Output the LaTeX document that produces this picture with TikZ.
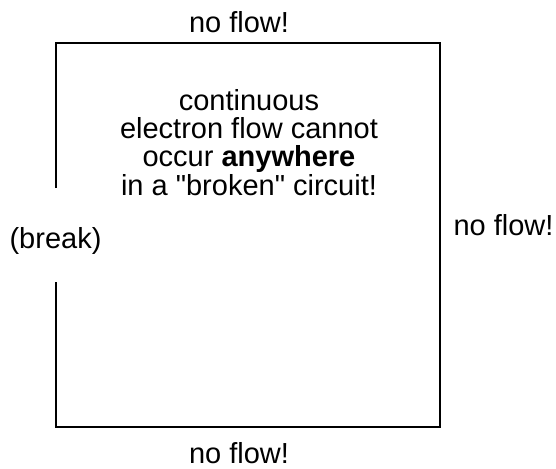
\documentclass[tikz,border=0pt]{standalone}
\usepackage{fontspec}
\setmainfont{Liberation Sans}
\begin{document}
\begin{tikzpicture}[x=1pt,y=-1pt,
  wire/.style={line width=1.5pt,draw=black},
  lbl/.style={inner sep=0pt,anchor=base,font=\fontsize{29}{28.3}\selectfont}]
\useasboundingbox (0,0) rectangle (556,468);
\coordinate (tl) at (56,43);
\coordinate (tr) at (440,43);
\coordinate (br) at (440,427);
\coordinate (bl) at (56,427);
\coordinate (b1) at (56,188);
\coordinate (b2) at (56,282);
\draw[wire] (b1) -- (tl) -- (tr) -- (br) -- (bl) -- (b2);
\node[lbl] (top) at (239,33) {no flow!};
\node[lbl] (right) at (503.5,235) {no flow!};
\node[lbl] (bottom) at (239,463) {no flow!};
\node[lbl] (brk) at (55.5,248) {(break)};
\node[lbl,align=center] (msg) at (249,195) {continuous\\electron flow cannot\\occur \textbf{anywhere}\\in a \textquotedbl broken\textquotedbl{} circuit!};
\end{tikzpicture}
\end{document}
